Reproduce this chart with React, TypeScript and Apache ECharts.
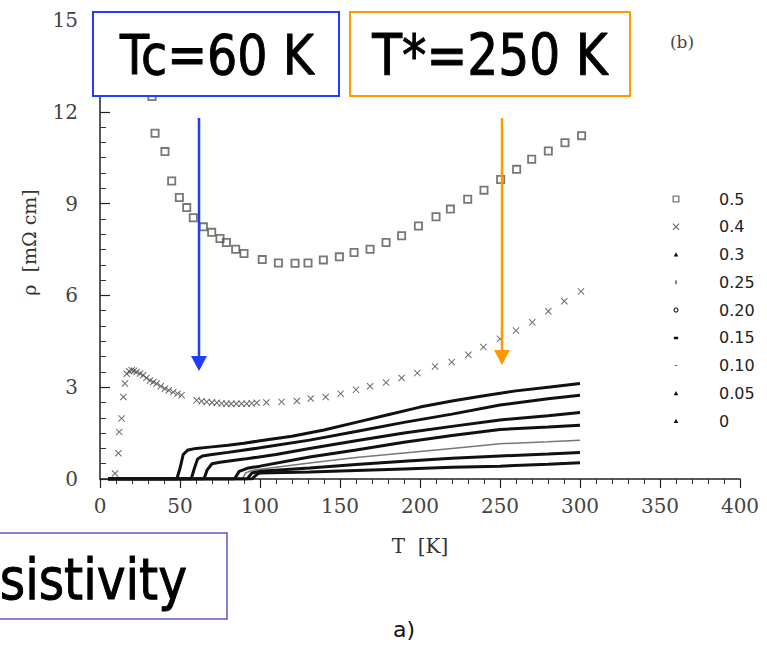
import React, { useEffect, useRef } from 'react';
import * as echarts from 'echarts';

// ---------- data ----------
const seriesNames = ['0.5', '0.4', '0.3', '0.25', '0.20', '0.15', '0.10', '0.05', '0'];

const rho05: [number, number][] = [
  [32.5, 12.5], [34.4, 11.3], [40.6, 10.7], [44.8, 9.74], [49.6, 9.2], [54.2, 8.87], [58.3, 8.54],
  [64.6, 8.24], [69.8, 8.06], [75, 7.86], [79, 7.73], [84.8, 7.51], [90, 7.37], [101.4, 7.17],
  [111.5, 7.06], [121.9, 7.05], [130, 7.06], [139.6, 7.16], [149.6, 7.26], [158.8, 7.4],
  [168.8, 7.51], [178.8, 7.73], [188.5, 7.95], [199, 8.27], [210, 8.57], [219, 8.82],
  [229.8, 9.14], [240, 9.44], [250.4, 9.79], [260.4, 10.12], [269.8, 10.45], [280.2, 10.72],
  [290.6, 10.99], [301, 11.22],
];

const rho04: [number, number][] = [
  [9.4, 0.18], [11.5, 0.84], [12, 1.54], [13.5, 1.98], [14.6, 2.68], [15.6, 3.12], [16.7, 3.44],
  [18.2, 3.52], [19.8, 3.55], [21.3, 3.54], [22.9, 3.5], [25, 3.45], [27, 3.39], [29, 3.3],
  [31.3, 3.22], [33.3, 3.17], [35.4, 3.12], [38, 3.03], [40.6, 2.95], [43, 2.9], [45.8, 2.84],
  [48.5, 2.79], [51, 2.74], [60.4, 2.57], [63.5, 2.54], [66.7, 2.52], [70, 2.5], [73, 2.49],
  [76, 2.47], [79, 2.46], [82, 2.46], [85.2, 2.46], [88.5, 2.46], [91.7, 2.46], [94.8, 2.47],
  [97.9, 2.49], [104, 2.5], [113.5, 2.52], [123, 2.55], [131.7, 2.63], [141, 2.68], [150.4, 2.79],
  [160, 2.92], [168.8, 3.03], [178.8, 3.15], [188.5, 3.3], [198.3, 3.46], [209.4, 3.68],
  [219.8, 3.82], [230.2, 4.06], [239.6, 4.31], [250, 4.58], [260, 4.85], [270.2, 5.12],
  [280.2, 5.48], [290.2, 5.81], [300.6, 6.13],
];

const rho03: [number, number][] = [
  [5, 0], [48, 0], [50, 0.35], [52, 0.8], [55, 0.95], [60, 1.0], [70, 1.05], [80, 1.1], [90, 1.17],
  [100, 1.25], [120, 1.4], [140, 1.6], [160, 1.85], [180, 2.1], [200, 2.35], [220, 2.55],
  [240, 2.72], [260, 2.88], [280, 3.0], [300, 3.12],
];
const rho025: [number, number][] = [
  [5, 0], [57, 0], [59, 0.35], [61, 0.65], [64, 0.75], [70, 0.8], [80, 0.87], [100, 1.02],
  [131, 1.27], [160, 1.55], [190, 1.85], [220, 2.12], [250, 2.42], [280, 2.62], [300, 2.74],
];
const rho020: [number, number][] = [
  [5, 0], [65, 0], [67, 0.3], [70, 0.5], [75, 0.55], [90, 0.65], [110, 0.8], [131, 1.0],
  [160, 1.25], [190, 1.5], [220, 1.72], [250, 1.93], [280, 2.07], [300, 2.17],
];
const rho015: [number, number][] = [
  [5, 0], [84, 0], [87, 0.25], [92, 0.35], [100, 0.42], [131, 0.72], [160, 0.95], [190, 1.2],
  [220, 1.42], [250, 1.62], [280, 1.7], [300, 1.76],
];
const rho010: [number, number][] = [
  [5, 0], [89, 0], [91, 0.2], [95, 0.28], [100, 0.32], [131, 0.52], [160, 0.7], [190, 0.85],
  [220, 1.0], [250, 1.15], [280, 1.22], [300, 1.27],
];
const rho005: [number, number][] = [
  [5, 0], [92, 0], [95, 0.2], [100, 0.25], [131, 0.36], [160, 0.47], [190, 0.58], [220, 0.68],
  [250, 0.75], [280, 0.82], [300, 0.87],
];
const rho0: [number, number][] = [
  [5, 0], [95, 0], [98, 0.15], [100, 0.2], [131, 0.23], [160, 0.28], [190, 0.33], [220, 0.38],
  [250, 0.42], [280, 0.48], [300, 0.53],
];

const xMin = 0, xMax = 400, xStep = 50;
const yMin = 0, yMax = 15, yStep = 3;

// ---------- styles ----------
const SQUARE = 'path://M0,0H10V10H0Z M2,2V8H8V2Z';
const CROSS = 'path://M0,1L1,0L5,4L9,0L10,1L6,5L10,9L9,10L5,6L1,10L0,9L4,5Z';
// legend icons drawn inside a 10x10 box (tiny zero-area corner marks keep the box size)
const BOX = ' M0,0L0.01,0Z M10,10L10.01,10Z';
const legendIcons = [
  'path://M1.5,1.5H8.5V8.5H1.5Z M2.8,2.8V7.2H7.2V2.8Z' + BOX,
  'path://M1.5,2.3L2.3,1.5L5,4.2L7.7,1.5L8.5,2.3L5.8,5L8.5,7.7L7.7,8.5L5,5.8L2.3,8.5L1.5,7.7L4.2,5Z' + BOX,
  'path://M5,2.8L7.3,7H2.7Z' + BOX,
  'path://M4.5,3H5.5V7H4.5Z' + BOX,
  'path://M4,2.6H6L7.4,4V6L6,7.4H4L2.6,6V4Z M4.4,3.6L3.6,4.4V5.6L4.4,6.4H5.6L6.4,5.6V4.4L5.6,3.6Z' + BOX,
  'path://M2.8,4H7.2V6.4H2.8Z' + BOX,
  'path://M3.6,4.6H6.4V5.5H3.6Z' + BOX,
  'path://M5,2.8L7.3,7H2.7Z' + BOX,
  'path://M5,2.8L7.3,7H2.7Z' + BOX,
];

const serif = 'DejaVu Serif';

export default function App() {
  const ref = useRef<HTMLDivElement>(null);
  useEffect(() => {
    if (!ref.current) return;
    const chart = echarts.init(ref.current, undefined, { renderer: 'svg' });
    const lowData = [rho03, rho025, rho020, rho015, rho010, rho005, rho0];
    const lowSeries = lowData.map((d, i) => ({
      name: seriesNames[i + 2],
      type: 'line',
      data: d,
      showSymbol: false,
      symbol: 'none',
      lineStyle: { width: i === 4 ? 1.5 : 3, color: i === 4 ? '#777' : '#111' },
      itemStyle: { color: i === 4 ? '#777' : '#111' },
      z: 3,
    }));
    chart.setOption({
      animation: false,
      backgroundColor: '#fff',
      grid: { left: 100, right: 27, top: 20, bottom: 167 },
      xAxis: {
        type: 'value', min: xMin, max: xMax, interval: xStep,
        name: 'T  [K]', nameLocation: 'middle', nameGap: 57,
        nameTextStyle: { fontFamily: serif, fontSize: 20, color: '#333' },
        axisLine: { lineStyle: { color: '#222', width: 1.5 } },
        axisTick: { show: true, inside: false, length: 9, lineStyle: { color: '#222', width: 1.2 } },
        minorTick: { show: true, splitNumber: 5, length: 5, lineStyle: { color: '#333', width: 1 } },
        axisLabel: { fontFamily: serif, fontSize: 20, color: '#444', margin: 17 },
        splitLine: { show: false },
      },
      yAxis: {
        type: 'value', min: yMin, max: yMax, interval: yStep,
        name: 'ρ  [mΩ cm]', nameLocation: 'middle', nameGap: 62, nameRotate: 90,
        nameTextStyle: { fontFamily: serif, fontSize: 19, color: '#333', padding: [0, 0, 0, 14] },
        axisLine: { show: true, lineStyle: { color: '#222', width: 1.5 } },
        axisTick: { show: true, inside: true, length: 10, lineStyle: { color: '#222', width: 1.2 } },
        minorTick: { show: true, splitNumber: 6, length: 6, lineStyle: { color: '#333', width: 1 } },
        axisLabel: { fontFamily: serif, fontSize: 20, color: '#444', margin: 22 },
        splitLine: { show: false },
      },
      legend: {
        orient: 'vertical', left: 671, top: 191, padding: 0, itemWidth: 76, itemHeight: 10, itemGap: 11.75,
        symbolKeepAspect: true, selectedMode: false,
        textStyle: { fontFamily: 'DejaVu Sans', fontSize: 16, color: '#222', lineHeight: 16 },
        data: seriesNames.map((n, i) => ({ name: n, icon: legendIcons[i] })),
      },
      series: [
        {
          name: seriesNames[0], type: 'scatter', data: rho05, symbol: SQUARE, symbolSize: 9,
          itemStyle: { color: '#555' }, z: 4,
        },
        {
          name: seriesNames[1], type: 'scatter', data: rho04, symbol: CROSS, symbolSize: 7,
          itemStyle: { color: '#444' }, z: 4,
        },
        ...lowSeries,
      ],
      graphic: [
        { type: 'text', x: 682, y: 42, z: 50, style: { text: '(b)', fontFamily: serif, fontSize: 17, fill: '#444', align: 'center', verticalAlign: 'middle' } },
        { type: 'rect', z: 100, shape: { x: 93, y: 12, width: 246, height: 84 }, style: { fill: '#fff', stroke: '#1f3dff', lineWidth: 2 } },
        { type: 'text', z: 101, x: 217, y: 55, scaleX: 0.85, style: { text: 'Tc=60 K', fontFamily: 'DejaVu Sans', fontSize: 56, fill: '#000', stroke: '#000', lineWidth: 1, align: 'center', verticalAlign: 'middle' } },
        { type: 'rect', z: 100, shape: { x: 350, y: 12, width: 280, height: 84 }, style: { fill: '#fff', stroke: '#ff9a00', lineWidth: 2 } },
        { type: 'text', z: 101, x: 490, y: 55, scaleX: 0.87, style: { text: 'T*=250 K', fontFamily: 'DejaVu Sans', fontSize: 56, fill: '#000', stroke: '#000', lineWidth: 1, align: 'center', verticalAlign: 'middle' } },
        { type: 'line', z: 100, shape: { x1: 199, y1: 118, x2: 199, y2: 358 }, style: { stroke: '#1f3dff', lineWidth: 2.5 } },
        { type: 'polygon', z: 100, shape: { points: [[191, 356], [207, 356], [199, 371]] }, style: { fill: '#1f3dff' } },
        { type: 'line', z: 100, shape: { x1: 502, y1: 118, x2: 502, y2: 352 }, style: { stroke: '#ff9a00', lineWidth: 2.5 } },
        { type: 'polygon', z: 100, shape: { points: [[494, 350], [510, 350], [502, 365]] }, style: { fill: '#ff9a00' } },
        { type: 'rect', z: 100, shape: { x: -3, y: 533, width: 230, height: 86 }, style: { fill: '#fff', stroke: '#5a5ad0', lineWidth: 1.5 } },
        { type: 'text', z: 101, x: 187, y: 579, scaleX: 0.87, style: { text: 'sistivity', fontFamily: 'DejaVu Sans', fontSize: 56, fill: '#000', stroke: '#000', lineWidth: 1, align: 'right', verticalAlign: 'middle' } },
        { type: 'text', z: 101, x: 404, y: 629, style: { text: 'a)', fontFamily: 'DejaVu Sans', fontSize: 22, fill: '#111', align: 'center', verticalAlign: 'middle' } },
      ],
    });
    return () => chart.dispose();
  }, []);
  return <div ref={ref} style={{ position: 'fixed', left: 0, top: 0, width: 767, height: 646 }} />;
}
